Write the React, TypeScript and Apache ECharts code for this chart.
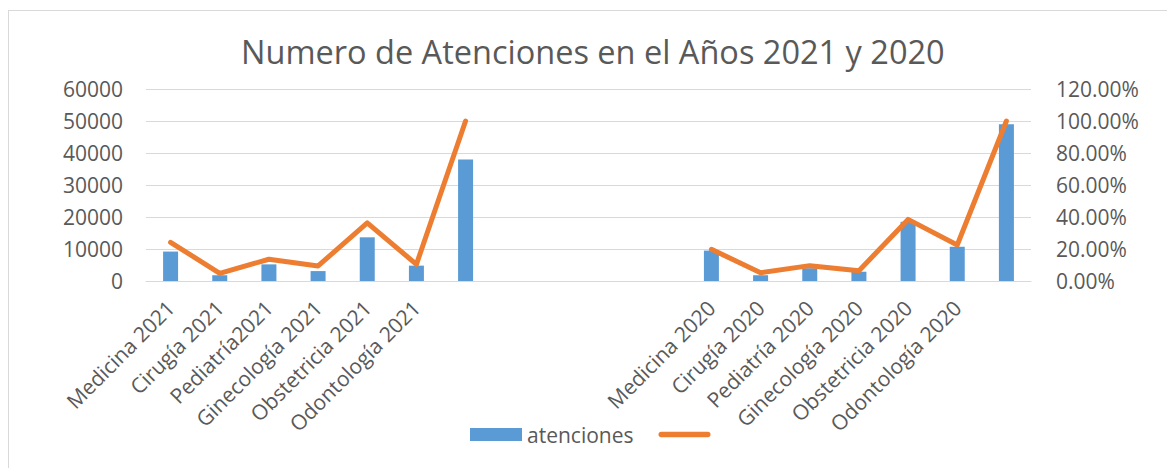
import React, { useEffect, useRef } from "react";
import * as echarts from "echarts";

const categories = [
  "Medicina 2021", "Cirugía 2021", "Pediatría2021", "Ginecología 2021", "Obstetricia 2021", "Odontología 2021", "",
  "", "", "", "",
  "Medicina 2020", "Cirugía 2020", "Pediatría 2020", "Ginecología 2020", "Obstetricia 2020", "Odontología 2020", "",
];

const atenciones: (number | null)[] = [
  9200, 1800, 5200, 3100, 13650, 4800, 38000,
  null, null, null, null,
  9500, 1800, 4000, 2900, 18500, 10700, 49000,
];

const porcentaje: (number | null)[] = [
  0.242, 0.048, 0.136, 0.094, 0.363, 0.104, 1.0,
  null, null, null, null,
  0.198, 0.052, 0.096, 0.064, 0.385, 0.225, 1.0,
];

const leftTicks = { min: 0, max: 60000, interval: 10000 };
const rightTicks = { min: 0, max: 1.2, interval: 0.2 };

const FONT = "Open Sans";
const TEXT = "#595959";
const GRID = "#D9D9D9";

export default function App() {
  const ref = useRef<HTMLDivElement>(null);
  useEffect(() => {
    if (!ref.current) return;
    const chart = echarts.init(ref.current, null, { renderer: "svg" });
    chart.setOption({
      animation: false,
      backgroundColor: "#ffffff",
      textStyle: { fontFamily: FONT, color: TEXT },
      title: {
        text: "Numero de Atenciones en el Años 2021 y 2020",
        left: 236,
        top: 30,
        textStyle: { fontFamily: FONT, fontSize: 32.5, fontWeight: "normal", color: TEXT },
      },
      grid: { left: 146, right: 136, top: 89, bottom: 187, containLabel: false },
      legend: {
        left: 465,
        top: 419,
        itemWidth: 52,
        itemHeight: 13,
        itemGap: 25,
        textStyle: { fontFamily: FONT, fontSize: 21, color: TEXT },
        data: [
          { name: "atenciones", icon: "rect" },
          { name: " ", icon: "path://M3,0 L53,0 A3,3 0 0 1 53,6 L3,6 A3,3 0 0 1 3,0 Z", itemStyle: { color: "#ED7D31" } },
        ],
      },
      xAxis: {
        type: "category",
        data: categories,
        axisLine: { lineStyle: { color: GRID, width: 1 } },
        axisTick: { show: false },
        axisLabel: {
          interval: 0,
          rotate: 45,
          margin: 23,
          fontFamily: FONT,
          fontSize: 21,
          color: TEXT,
        },
      },
      yAxis: [
        {
          type: "value",
          ...leftTicks,
          axisLine: { show: false },
          axisTick: { show: false },
          splitLine: { lineStyle: { color: GRID, width: 1 } },
          axisLabel: {
            margin: 23,
            fontFamily: FONT,
            fontSize: 21,
            color: TEXT,
            formatter: (v: number) => String(v),
          },
        },
        {
          type: "value",
          ...rightTicks,
          axisLine: { show: false },
          axisTick: { show: false },
          splitLine: { show: false },
          axisLabel: {
            margin: 25,
            fontFamily: FONT,
            fontSize: 21,
            color: TEXT,
            formatter: (v: number) => (v * 100).toFixed(2) + "%",
          },
        },
      ],
      series: [
        {
          name: "atenciones",
          type: "bar",
          data: atenciones,
          barWidth: 15,
          itemStyle: { color: "#5B9BD5" },
          yAxisIndex: 0,
        },
        {
          name: " ",
          type: "line",
          data: porcentaje,
          yAxisIndex: 1,
          symbol: "none",
          connectNulls: false,
          lineStyle: { color: "#ED7D31", width: 5, cap: "round", join: "round" },
          itemStyle: { color: "#ED7D31" },
        },
      ],
      graphic: [
        { type: "line", shape: { x1: 8.5, y1: 10, x2: 8.5, y2: 468 }, style: { stroke: GRID, lineWidth: 1 } },
        { type: "line", shape: { x1: 8, y1: 10.5, x2: 1167, y2: 10.5 }, style: { stroke: GRID, lineWidth: 1 } },
      ],
    });
    return () => chart.dispose();
  }, []);
  return (
    <div
      ref={ref}
      style={{ position: "absolute", left: 0, top: 0, width: 1167, height: 468 }}
    />
  );
}
